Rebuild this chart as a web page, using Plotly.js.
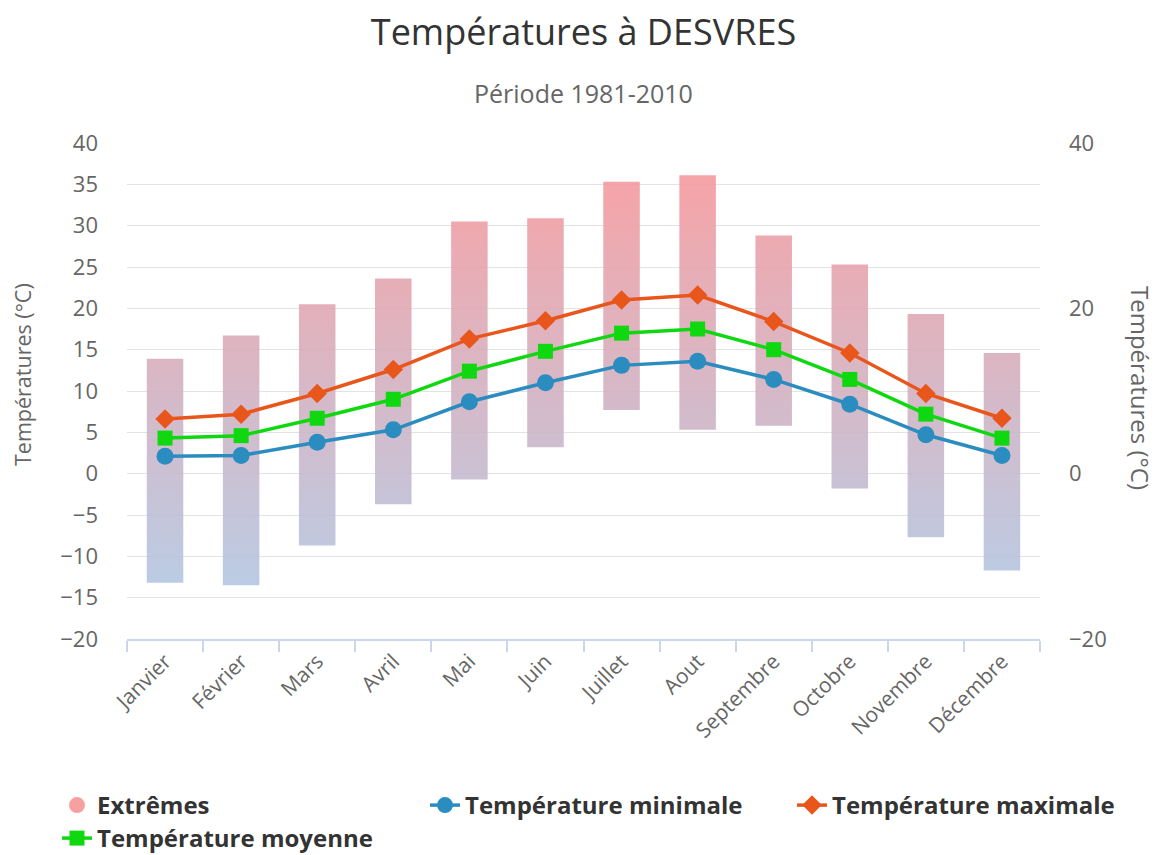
<!DOCTYPE html>
<html>
<head>
<meta charset="utf-8">
<script src="https://cdn.plot.ly/plotly-3.0.1.min.js"></script>
<style>html,body{margin:0;padding:0;background:#fff;}#chart{width:1156px;height:855px;}</style>
</head>
<body>
<div id="chart"></div>
<script>
const months = ["Janvier","Février","Mars","Avril","Mai","Juin","Juillet","Aout","Septembre","Octobre","Novembre","Décembre"];
const extMax = [13.9, 16.7, 20.5, 23.6, 30.5, 30.9, 35.3, 36.1, 28.8, 25.3, 19.3, 14.6];
const extMin = [-13.2, -13.5, -8.7, -3.7, -0.7, 3.2, 7.7, 5.3, 5.8, -1.8, -7.7, -11.7];
const tMin = [2.1, 2.2, 3.8, 5.3, 8.7, 11.0, 13.1, 13.6, 11.4, 8.4, 4.7, 2.2];
const tMoy = [4.3, 4.6, 6.7, 9.0, 12.4, 14.8, 17.0, 17.5, 15.0, 11.4, 7.2, 4.3];
const tMax = [6.6, 7.2, 9.7, 12.6, 16.3, 18.5, 21.0, 21.6, 18.4, 14.6, 9.7, 6.7];
const rightTicks = [-20, 0, 20, 40];

const FONT = "Open Sans, sans-serif";
const half = 0.24;

// extremes range columns: closed polygons on a hidden numeric x axis aligned with the categories
const px = [], py = [];
months.forEach((m, i) => {
  px.push(i - half, i + half, i + half, i - half, i - half, null);
  py.push(extMin[i], extMin[i], extMax[i], extMax[i], extMin[i], null);
});

const traces = [
  {
    type: "scatter", mode: "lines", x: px, y: py, xaxis: "x", yaxis: "y",
    fill: "toself", line: {width: 0, color: "rgba(0,0,0,0)"},
    fillgradient: {type: "vertical", start: -20, stop: 40,
      colorscale: [[0, "rgba(170,204,234,0.9)"], [1, "rgba(250,150,152,0.9)"]]},
    showlegend: false, hoverinfo: "skip"
  },
  {
    type: "scatter", mode: "markers", x: [null], y: [null], name: "Extrêmes", legend: "legend",
    xaxis: "x2", marker: {symbol: "circle", size: 18, color: "#f7a0a0"}
  },
  {
    type: "scatter", mode: "lines+markers", x: months, y: tMin, name: "Température minimale",
    xaxis: "x2", legend: "legend2",
    line: {color: "#2b8cc0", width: 3.5}, marker: {symbol: "circle", size: 17, color: "#2b8cc0"}
  },
  {
    type: "scatter", mode: "lines+markers", x: months, y: tMax, name: "Température maximale",
    xaxis: "x2", legend: "legend3",
    line: {color: "#e8561c", width: 3.5}, marker: {symbol: "diamond", size: 15, color: "#e8561c"}
  },
  {
    type: "scatter", mode: "lines+markers", x: months, y: tMoy, name: "Température moyenne",
    xaxis: "x2", legend: "legend4",
    line: {color: "#10d810", width: 3.5}, marker: {symbol: "square", size: 15, color: "#10d810"}
  },
  {
    type: "scatter", mode: "markers", x: [null], y: [null], xaxis: "x", yaxis: "y2",
    showlegend: false, hoverinfo: "skip"
  }
];

const legendBase = (xpx, ypx) => ({
  orientation: "h", xref: "container", yref: "container", x: xpx/1156, y: 1 - ypx/855,
  xanchor: "left", yanchor: "top",
  font: {size: 24, color: "#333", family: FONT, weight: "bold"},
  bgcolor: "rgba(0,0,0,0)"
});

const layout = {
  width: 1156, height: 855,
  paper_bgcolor: "#fff", plot_bgcolor: "#fff",
  margin: {l: 127, r: 116, t: 143, b: 216},
  font: {family: FONT, color: "#666"},
  title: {text: "Températures à DESVRES", x: 0.5, xref: "paper", xanchor: "center",
    y: 1 - 32/855, yref: "container", yanchor: "middle",
    font: {family: FONT, size: 36, color: "#333"}},
  xaxis: {range: [-0.5, 11.5], visible: false, showgrid: false, zeroline: false},
  xaxis2: {
    type: "category", categoryorder: "array", categoryarray: months,
    overlaying: "x", anchor: "y", side: "bottom",
    range: [-0.5, 11.5], showgrid: false, zeroline: false,
    showline: true, linecolor: "#ccd6eb", linewidth: 1.5,
    ticks: "outside", tickson: "boundaries", ticklen: 11, tickcolor: "#ccd6eb", tickwidth: 1.5,
    tickangle: -45, tickfont: {size: 21, color: "#666", family: FONT}
  },
  yaxis: {
    range: [-20, 40], dtick: 5, tick0: 0, showgrid: true, gridcolor: "#e3e3e3", gridwidth: 1.2,
    zeroline: false, showline: false, ticks: "", ticklabelstandoff: 28,
    tickfont: {size: 22, color: "#666", family: FONT}
  },
  yaxis2: {
    overlaying: "y", side: "right", anchor: "x", range: [-20, 40], tickvals: rightTicks,
    showgrid: false, zeroline: false, showline: false, ticks: "", ticklabelstandoff: 28,
    tickfont: {size: 22, color: "#666", family: FONT}
  },
  legend: legendBase(57, 783),
  legend2: legendBase(425, 783),
  legend3: legendBase(792, 783),
  legend4: legendBase(57, 816),
  annotations: [
    {text: "Période 1981-2010", xref: "paper", yref: "paper", x: 0.5, y: 1 + (143-93)/496,
      xanchor: "center", yanchor: "middle", showarrow: false,
      font: {size: 25, color: "#666", family: FONT}},
    {text: "Températures (°C)", xref: "paper", yref: "paper", x: (22-127)/913, y: (639-375)/496,
      xanchor: "center", yanchor: "middle", textangle: -90, showarrow: false,
      font: {size: 21.5, color: "#666", family: FONT}},
    {text: "Températures (°C)", xref: "paper", yref: "paper", x: (1141-127)/913, y: (639-388)/496,
      xanchor: "center", yanchor: "middle", textangle: 90, showarrow: false,
      font: {size: 24, color: "#666", family: FONT}}
  ]
};

Plotly.newPlot("chart", traces, layout, {displayModeBar: false, responsive: false});
</script>
</body>
</html>
